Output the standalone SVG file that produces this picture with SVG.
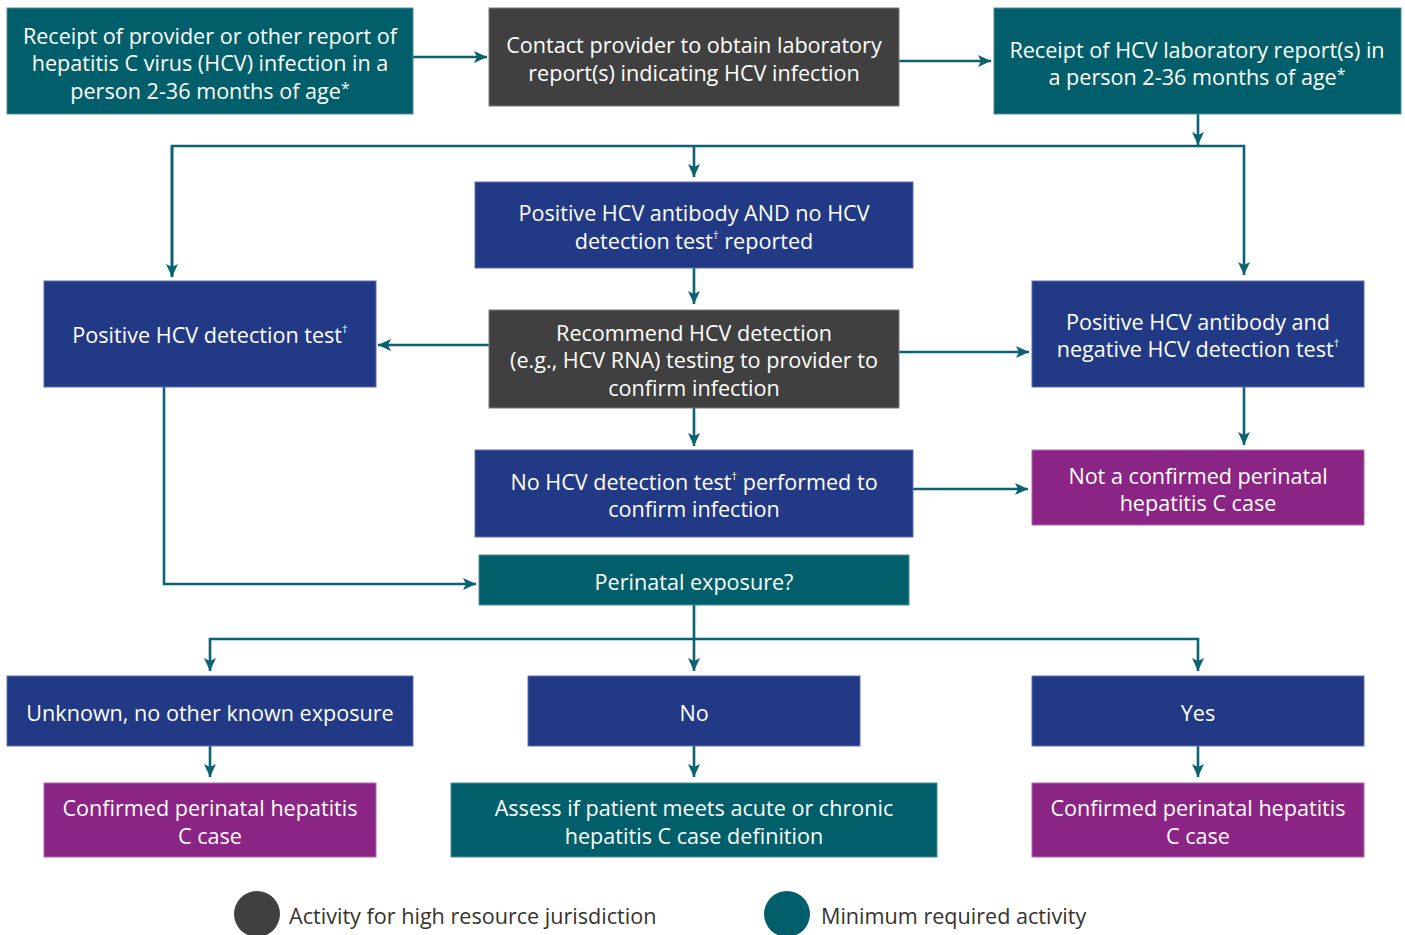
<svg xmlns="http://www.w3.org/2000/svg" width="1405" height="935" viewBox="0 0 1405 935">
<style>
.teal{fill:#005f6b;stroke:#4f8d96;stroke-width:1}
.gray{fill:#404040;stroke:#7a7a7a;stroke-width:1}
.blue{fill:#223a85;stroke:#5c6fae;stroke-width:1}
.purple{fill:#8b2585;stroke:#b06aac;stroke-width:1}
text{font-family:"Open Sans","Liberation Sans",sans-serif;font-size:21.6px;fill:#ffffff;text-anchor:middle;dominant-baseline:central}
.sup{font-size:11px}
.ast{font-size:16px}
.legend{fill:#333333;text-anchor:start}
.conn{fill:none;stroke:#0b6270;stroke-width:2.6}
</style>
<defs>
<marker id="ah" markerUnits="userSpaceOnUse" markerWidth="14" markerHeight="12" refX="13" refY="6" orient="auto">
<path d="M0,0 L13,6 L0,12 L3,6 z" fill="#0b6270"/>
</marker>
</defs>
<g id="connectors">
<path class="conn" d="M413,57 H487" marker-end="url(#ah)"/>
<path class="conn" d="M899,61 H991" marker-end="url(#ah)"/>
<path class="conn" d="M1198,114 V145" marker-end="url(#ah)"/>
<path class="conn" d="M172,277 V146 H1244 V275" marker-end="url(#ah)"/>
<path class="conn" d="M172,146 V277" marker-end="url(#ah)"/>
<path class="conn" d="M694,146 V177" marker-end="url(#ah)"/>
<path class="conn" d="M694,268 V304" marker-end="url(#ah)"/>
<path class="conn" d="M489,345 H378" marker-end="url(#ah)"/>
<path class="conn" d="M899,352 H1029" marker-end="url(#ah)"/>
<path class="conn" d="M1244,387 V445" marker-end="url(#ah)"/>
<path class="conn" d="M694,408 V446" marker-end="url(#ah)"/>
<path class="conn" d="M913,489 H1028" marker-end="url(#ah)"/>
<path class="conn" d="M164,387 V584 H476" marker-end="url(#ah)"/>
<path class="conn" d="M694,605 V639 H210 V671" marker-end="url(#ah)"/>
<path class="conn" d="M694,639 V671" marker-end="url(#ah)"/>
<path class="conn" d="M694,639 H1198 V671" marker-end="url(#ah)"/>
<path class="conn" d="M210,746 V777" marker-end="url(#ah)"/>
<path class="conn" d="M694,746 V777" marker-end="url(#ah)"/>
<path class="conn" d="M1198,746 V777" marker-end="url(#ah)"/>
</g>
<g id="n1"><rect class="teal" x="7" y="8" width="406" height="106"/>
<text x="210" y="35">Receipt of provider or other report of</text>
<text x="210" y="62">hepatitis C virus (HCV) infection in a</text>
<text x="210" y="90">person 2-36 months of age<tspan class="ast" dy="-2">*</tspan></text></g>
<g id="n2"><rect class="gray" x="489" y="8" width="410" height="98"/>
<text x="694" y="44">Contact provider to obtain laboratory</text>
<text x="694" y="72">report(s) indicating HCV infection</text></g>
<g id="n3"><rect class="teal" x="994" y="8" width="407" height="106"/>
<text x="1197" y="49">Receipt of HCV laboratory report(s) in</text>
<text x="1197" y="76">a person 2-36 months of age<tspan class="ast" dy="-2">*</tspan></text></g>
<g id="n4"><rect class="blue" x="475" y="182" width="438" height="86"/>
<text x="694" y="212">Positive HCV antibody AND no HCV</text>
<text x="694" y="240">detection test<tspan class="sup" dy="-6">†</tspan><tspan dy="6"> reported</tspan></text></g>
<g id="n5"><rect class="gray" x="489" y="310" width="410" height="98"/>
<text x="694" y="332">Recommend HCV detection</text>
<text x="694" y="359">(e.g., HCV RNA) testing to provider to</text>
<text x="694" y="387">confirm infection</text></g>
<g id="n6"><rect class="blue" x="44" y="281" width="332" height="106"/>
<text x="210" y="334">Positive HCV detection test<tspan class="sup" dy="-6">†</tspan></text></g>
<g id="n7"><rect class="blue" x="1032" y="281" width="332" height="106"/>
<text x="1198" y="321">Positive HCV antibody and</text>
<text x="1198" y="348">negative HCV detection test<tspan class="sup" dy="-6">†</tspan></text></g>
<g id="n8"><rect class="purple" x="1032" y="450" width="332" height="75"/>
<text x="1198" y="475">Not a confirmed perinatal</text>
<text x="1198" y="502">hepatitis C case</text></g>
<g id="n9"><rect class="blue" x="475" y="450" width="438" height="87"/>
<text x="694" y="481">No HCV detection test<tspan class="sup" dy="-6">†</tspan><tspan dy="6"> performed to</tspan></text>
<text x="694" y="508">confirm infection</text></g>
<g id="n10"><rect class="teal" x="479" y="555" width="430" height="50"/>
<text x="694" y="581">Perinatal exposure?</text></g>
<g id="n11"><rect class="blue" x="7" y="676" width="406" height="70"/>
<text x="210" y="712">Unknown, no other known exposure</text></g>
<g id="n12"><rect class="blue" x="528" y="676" width="332" height="70"/>
<text x="694" y="712">No</text></g>
<g id="n13"><rect class="blue" x="1032" y="676" width="332" height="70"/>
<text x="1198" y="712">Yes</text></g>
<g id="n14"><rect class="purple" x="44" y="783" width="332" height="74"/>
<text x="210" y="807">Confirmed perinatal hepatitis</text>
<text x="210" y="835">C case</text></g>
<g id="n15"><rect class="teal" x="451" y="783" width="486" height="74"/>
<text x="694" y="807">Assess if patient meets acute or chronic</text>
<text x="694" y="835">hepatitis C case definition</text></g>
<g id="n16"><rect class="purple" x="1032" y="783" width="332" height="74"/>
<text x="1198" y="807">Confirmed perinatal hepatitis</text>
<text x="1198" y="835">C case</text></g>
<g id="legend">
<circle cx="257" cy="914" r="23" fill="#404040"/>
<text class="legend" x="289" y="915">Activity for high resource jurisdiction</text>
<circle cx="787" cy="914" r="23" fill="#005f6b"/>
<text class="legend" x="821" y="915">Minimum required activity</text>
</g>
</svg>
